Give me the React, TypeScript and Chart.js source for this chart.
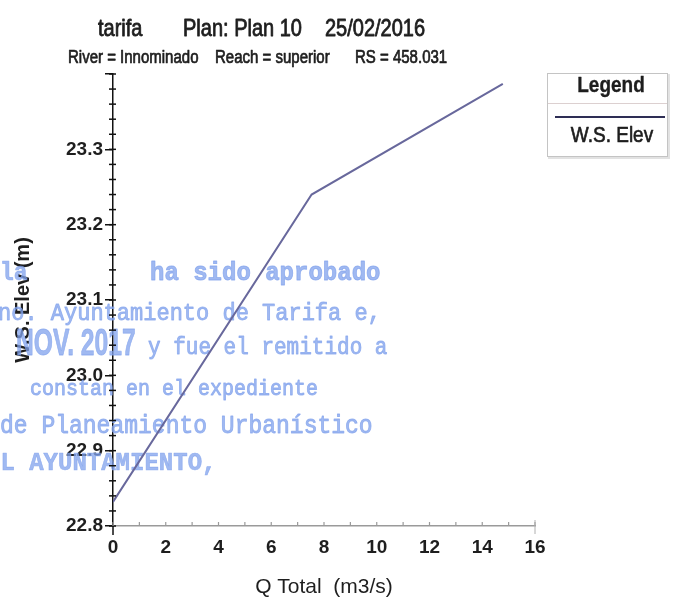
import { useEffect, useRef } from 'react';
import { Chart, registerables } from 'chart.js';

Chart.register(...registerables);

// ---- data ----
const qTotal = [0, 7.53, 14.78];
const wsElev = [22.832, 23.24, 23.387];

const xTickValues = [0, 2, 4, 6, 8, 10, 12, 14, 16];
const xTickLabels = ['0', '2', '4', '6', '8', '10', '12', '14', '16'];
const yTickValues = [22.8, 22.9, 23.0, 23.1, 23.2, 23.3, 23.4];
const yTickLabels = ['22.8', '22.9', '23.0', '23.1', '23.2', '23.3', ''];
const xMinorStep = 1;
const yMinorStep = 0.02;

const titleParts = ['tarifa', 'Plan: Plan 10', '25/02/2016'];
const subtitleParts = ['River = Innominado', 'Reach = superior', 'RS = 458.031'];
const seriesName = 'W.S. Elev';
const legendTitle = 'Legend';
const xAxisTitle = 'Q Total  (m3/s)';
const yAxisTitle = 'W.S. Elev (m)';

const stampTexts = [
  'la',
  'ha sido aprobado',
  'no. Ayuntamiento de Tarifa e,',
  'NOV. 2017',
  'y fue el remitido a',
  'constan en el expediente',
  'de Planeamiento Urbanístico',
  'EL AYUNTAMIENTO,',
];

const SANS = '"Liberation Sans", Arial, sans-serif';
const MONO = '"Liberation Mono", "Courier New", monospace';
const LINE_COLOR = 'rgb(104,104,156)';

function stretchedText(
  ctx: CanvasRenderingContext2D,
  text: string,
  x: number,
  y: number,
  font: string,
  sx: number,
  sy: number,
  align: CanvasTextAlign = 'left',
  thicken = 0
) {
  ctx.save();
  ctx.translate(x, y);
  ctx.scale(sx, sy);
  ctx.font = font;
  ctx.textAlign = align;
  ctx.textBaseline = 'alphabetic';
  ctx.fillText(text, 0, 0);
  if (thicken > 0) {
    ctx.strokeStyle = ctx.fillStyle as string;
    ctx.lineWidth = thicken;
    ctx.lineJoin = 'round';
    ctx.strokeText(text, 0, 0);
  }
  ctx.restore();
}

const stampPlugin = {
  id: 'stamp',
  beforeDatasetsDraw(chart: any) {
    const ctx: CanvasRenderingContext2D = chart.ctx;
    ctx.save();
    ctx.fillStyle = 'rgba(128,162,236,0.75)';
    const f = (w: string, s: number) => `${w} ${s}px ${MONO}`;
    stretchedText(ctx, stampTexts[0], 0, 280, f('bold', 23), 1, 1.1, 'left', 0.6);
    stretchedText(ctx, stampTexts[1], 150, 280, f('bold', 24), 1, 1.1, 'left', 0.8);
    stretchedText(ctx, stampTexts[2], -2, 320, f('normal', 22), 1, 1.1, 'left', 0.8);
    stretchedText(ctx, stampTexts[3], 16, 355, `bold 28px ${SANS}`, 0.88, 1.3, 'left', 0.6);
    stretchedText(ctx, stampTexts[4], 148, 354, f('normal', 21), 1, 1.1, 'left', 0.8);
    stretchedText(ctx, stampTexts[5], 30, 395, f('normal', 20), 1, 1.1, 'left', 0.8);
    stretchedText(ctx, stampTexts[6], 0, 433, f('normal', 23), 1, 1.1, 'left', 0.8);
    stretchedText(ctx, stampTexts[7], -14, 470, f('bold', 24), 1, 1.1, 'left', 0.6);
    ctx.restore();
  },
};

const decorPlugin = {
  id: 'decor',
  afterDraw(chart: any) {
    const ctx: CanvasRenderingContext2D = chart.ctx;
    const xs = chart.scales.x;
    const ys = chart.scales.y;
    const area = chart.chartArea;

    // minor y ticks
    ctx.save();
    ctx.strokeStyle = '#111';
    ctx.lineWidth = 1.5;
    for (let v = ys.min; v <= ys.max + 1e-9; v += yMinorStep) {
      const py = ys.getPixelForValue(v);
      ctx.beginPath();
      ctx.moveTo(area.left - 4, py);
      ctx.lineTo(area.left + 3, py);
      ctx.stroke();
    }
    // x ticks (small, inward) and end ticks
    ctx.strokeStyle = '#9a9a9a';
    ctx.lineWidth = 1.2;
    for (let v = xs.min; v <= xs.max + 1e-9; v += xMinorStep) {
      const px = xs.getPixelForValue(v);
      ctx.beginPath();
      ctx.moveTo(px, area.bottom - 4);
      ctx.lineTo(px, area.bottom);
      ctx.stroke();
    }
    ctx.strokeStyle = '#111';
    ctx.lineWidth = 1.5;
    const p0 = xs.getPixelForValue(xs.min);
    ctx.beginPath();
    ctx.moveTo(p0, area.bottom);
    ctx.lineTo(p0, area.bottom + 9);
    ctx.stroke();
    ctx.strokeStyle = '#b0b0b0';
    ctx.lineWidth = 1;
    const p16 = xs.getPixelForValue(xs.max);
    ctx.beginPath();
    ctx.moveTo(p16, area.bottom - 6);
    ctx.lineTo(p16, area.bottom + 8);
    ctx.stroke();
    ctx.restore();

    // header titles
    ctx.save();
    ctx.fillStyle = '#1e1e1e';
    const tFont = `20px ${SANS}`;
    stretchedText(ctx, titleParts[0], 98, 36, tFont, 1, 1.2, 'left', 0.7);
    stretchedText(ctx, titleParts[1], 183, 36, tFont, 1, 1.2, 'left', 0.7);
    stretchedText(ctx, titleParts[2], 325, 36, tFont, 1, 1.2, 'left', 0.7);
    const sFont = `15px ${SANS}`;
    stretchedText(ctx, subtitleParts[0], 68, 63, sFont, 1, 1.2, 'left', 0.6);
    stretchedText(ctx, subtitleParts[1], 215, 63, sFont, 1, 1.2, 'left', 0.6);
    stretchedText(ctx, subtitleParts[2], 355, 63, sFont, 1, 1.2, 'left', 0.6);
    ctx.restore();

    // legend box
    ctx.save();
    const lx = 547, ly = 73, lw = 120, lh = 83;
    ctx.strokeStyle = '#e2e2e2';
    ctx.lineWidth = 2;
    ctx.strokeRect(lx + 2, ly + 2, lw, lh);
    ctx.fillStyle = '#fff';
    ctx.fillRect(lx, ly, lw, lh);
    ctx.strokeStyle = '#c4c4c4';
    ctx.lineWidth = 1;
    ctx.strokeRect(lx + 0.5, ly + 0.5, lw, lh);
    ctx.strokeStyle = '#dcd0d0';
    ctx.beginPath();
    ctx.moveTo(lx + 1, ly + 30.5);
    ctx.lineTo(lx + lw, ly + 30.5);
    ctx.stroke();
    ctx.fillStyle = '#1e1e1e';
    stretchedText(ctx, legendTitle, lx + 64, ly + 19, `bold 19px ${SANS}`, 1, 1.15, 'center', 0.3);
    ctx.strokeStyle = '#2e2e55';
    ctx.lineWidth = 2;
    ctx.beginPath();
    ctx.moveTo(lx + 8, ly + 44);
    ctx.lineTo(lx + lw - 2, ly + 44);
    ctx.stroke();
    ctx.fillStyle = '#1e1e1e';
    stretchedText(ctx, seriesName, lx + 65, ly + 69, `19px ${SANS}`, 1, 1.15, 'center', 0.6);
    ctx.restore();
  },
};

export default function App() {
  const ref = useRef<HTMLCanvasElement | null>(null);

  useEffect(() => {
    if (!ref.current) return;
    const chart = new Chart(ref.current, {
      type: 'line',
      data: {
        datasets: [
          {
            label: seriesName,
            data: qTotal.map((q, i) => ({ x: q, y: wsElev[i] })),
            borderColor: LINE_COLOR,
            backgroundColor: LINE_COLOR,
            borderWidth: 2,
            pointRadius: 0,
            tension: 0,
          },
        ],
      },
      options: {
        responsive: false,
        animation: false,
        events: [],
        layout: { padding: { left: 0, right: 139, top: 74, bottom: 4 } },
        plugins: {
          legend: { display: false },
          title: { display: false },
          tooltip: { enabled: false },
        },
        scales: {
          x: {
            type: 'linear',
            min: 0,
            max: 16,
            afterFit: (s: any) => {
              s.height = 74;
            },
            afterBuildTicks: (s: any) => {
              s.ticks = xTickValues.map((v) => ({ value: v }));
            },
            grid: { display: false, drawTicks: false },
            border: { display: true, color: '#9a9a9a', width: 1.5 },
            ticks: {
              padding: 10,
              color: '#1e1e1e',
              font: { family: SANS, size: 19, weight: 'bold' },
              callback: (v: any) => {
                const i = xTickValues.findIndex((t) => Math.abs(t - Number(v)) < 1e-6);
                return i < 0 ? '' : xTickLabels[i];
              },
            },
            title: {
              display: true,
              text: xAxisTitle,
              color: '#1e1e1e',
              font: { family: SANS, size: 21 },
              padding: { top: 0, bottom: 0 },
            },
          },
          y: {
            type: 'linear',
            min: 22.8,
            max: 23.4,
            afterFit: (s: any) => {
              s.width = 113;
            },
            afterBuildTicks: (s: any) => {
              s.ticks = yTickValues.map((v) => ({ value: v }));
            },
            grid: {
              display: true,
              drawOnChartArea: false,
              drawTicks: true,
              tickLength: 8,
              color: '#111',
              lineWidth: 1.5,
            },
            border: { display: true, color: '#111', width: 1.5 },
            ticks: {
              padding: 2,
              color: '#1e1e1e',
              font: { family: SANS, size: 19, weight: 'bold' },
              callback: (v: any) => {
                const i = yTickValues.findIndex((t) => Math.abs(t - Number(v)) < 1e-6);
                return i < 0 ? '' : yTickLabels[i];
              },
            },
            title: {
              display: true,
              text: yAxisTitle,
              color: '#1e1e1e',
              font: { family: SANS, size: 20, weight: 'bold' },
              padding: { top: 11, bottom: 0 },
            },
          },
        },
      },
      plugins: [stampPlugin, decorPlugin],
    } as any);
    return () => chart.destroy();
  }, []);

  return (
    <div style={{ position: 'fixed', left: 0, top: 0, width: 674, height: 604, background: '#fff' }}>
      <canvas ref={ref} width={674} height={604} style={{ display: 'block' }} />
    </div>
  );
}
